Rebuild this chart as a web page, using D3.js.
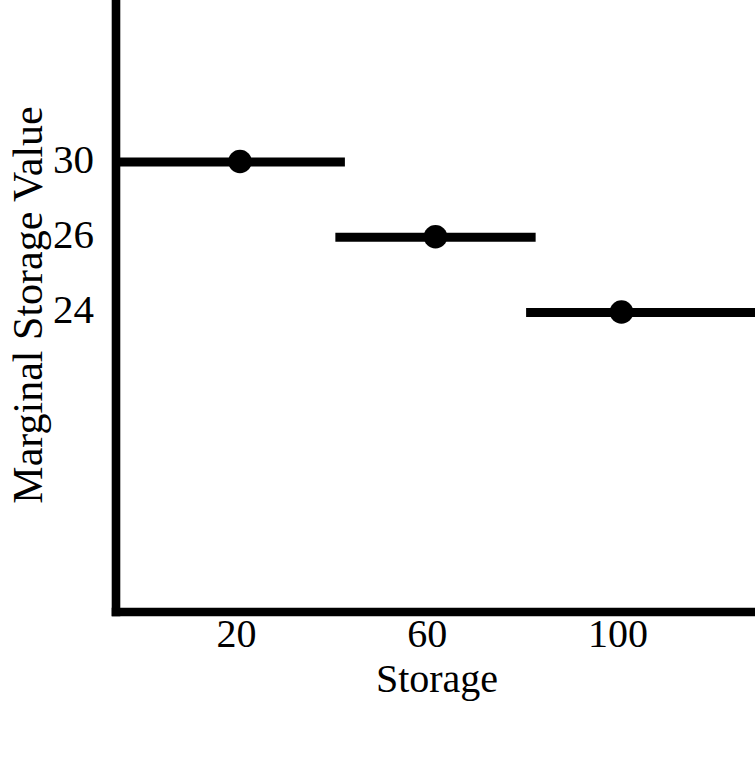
<!DOCTYPE html>
<html>
<head>
<meta charset="utf-8">
<script src="https://cdn.jsdelivr.net/npm/d3@7"></script>
<style>
  html, body { margin: 0; padding: 0; background: #fff; }
  svg { display: block; }
  text { font-family: "Liberation Serif", "Times New Roman", serif; fill: #000; }
</style>
</head>
<body>
<script>
// ---- data ----
const levels = ["30", "26", "24"];          // marginal storage value levels (y tick labels)
const segStart = [-6, 40, 80];              // storage where each step begins
const segEnd = [42, 82, 128];               // storage where each step ends
const pointX = [20, 61, 100];               // storage of each marker
const xTicks = [20, 60, 100];               // x tick labels
const xTitle = "Storage";
const yTitle = "Marginal Storage Value";

// ---- layout ----
const W = 755, H = 758;
const axisX = 116, axisY = 612;
const svg = d3.select("body").append("svg").attr("width", W).attr("height", H);
svg.append("rect").attr("width", W).attr("height", H).attr("fill", "#fff");

const x = d3.scaleLinear().domain([-6, 128]).range([axisX, W]);
const y = d3.scalePoint().domain(levels).range([162, 312.5]);

const steps = levels.map((v, i) => ({ v, x0: segStart[i], x1: segEnd[i], px: pointX[i] }));

// axes lines
svg.append("line")
  .attr("x1", axisX).attr("x2", axisX).attr("y1", 0).attr("y2", axisY + 4.3)
  .attr("stroke", "#000").attr("stroke-width", 8.6);
svg.append("line")
  .attr("x1", axisX - 4.3).attr("x2", W).attr("y1", axisY).attr("y2", axisY)
  .attr("stroke", "#000").attr("stroke-width", 8.6);

// step segments
svg.selectAll("line.seg").data(steps).join("line")
  .attr("class", "seg")
  .attr("x1", d => x(d.x0)).attr("x2", d => x(d.x1))
  .attr("y1", d => y(d.v)).attr("y2", d => y(d.v))
  .attr("stroke", "#000").attr("stroke-width", 9);

// markers
svg.selectAll("circle.pt").data(steps).join("circle")
  .attr("class", "pt")
  .attr("cx", d => x(d.px)).attr("cy", d => y(d.v) - 0.5)
  .attr("r", 11.8).attr("fill", "#000");

// y tick labels
const yAxis = d3.axisLeft(y).tickSize(0).tickPadding(0);
const gy = svg.append("g").attr("transform", `translate(94,0)`).call(yAxis);
gy.select(".domain").remove();
gy.selectAll("text")
  .attr("x", 0).attr("dy", null).attr("y", 10)
  .style("font-size", "41px").style("font-family", '"Liberation Serif", serif')
  .attr("fill", "#000").attr("text-anchor", "end");

// x tick labels
const xAxis = d3.axisBottom(x).tickValues(xTicks).tickSize(0).tickPadding(0).tickFormat(d3.format("d"));
const gx = svg.append("g").attr("transform", `translate(-4,0)`).call(xAxis);
gx.select(".domain").remove();
gx.selectAll("text")
  .attr("y", 647).attr("dy", null)
  .style("font-size", "40px").style("font-family", '"Liberation Serif", serif')
  .attr("fill", "#000").attr("text-anchor", "middle");

// titles
svg.append("text")
  .attr("x", 437).attr("y", 692)
  .attr("text-anchor", "middle")
  .style("font-size", "40px")
  .text(xTitle);

svg.append("text")
  .attr("transform", "translate(42,305) rotate(-90)")
  .attr("text-anchor", "middle")
  .style("font-size", "42px")
  .text(yTitle);
</script>
</body>
</html>
